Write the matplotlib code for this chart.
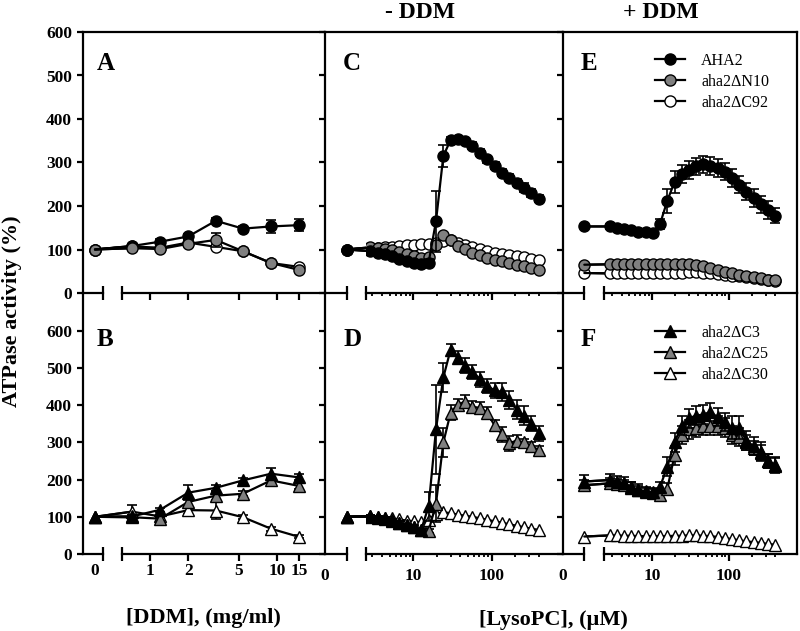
import matplotlib
matplotlib.use("Agg")
import matplotlib.pyplot as plt
from matplotlib.patches import ConnectionPatch
from matplotlib.ticker import NullLocator

plt.rcParams["font.family"] = ["Liberation Serif", "DejaVu Serif"]
plt.rcParams["font.weight"] = "bold"

# concentrations
ddm = [0.72, 1.2, 2.0, 3.3, 5.4, 9.0, 15.0]
lyso = [2.8, 3.5, 4.3, 5.3, 6.6, 8.2, 10.2, 12.6, 15.7, 19.5, 24.2, 30,
        37, 46, 57, 71, 88, 109, 136, 168, 209, 259, 322, 400]

# panel A (DDM titration, circles)
a_zero = {"AHA2": 100, "aha2ΔN10": 100, "aha2ΔC92": 100}
a_aha2 = [108, 118, 130, 166, 148, 153, 156]
a_aha2_err = [5, 6, 6, 6, 6, 15, 14]
a_n10 = [103, 101, 113, 122, 96, 69, 53]
a_n10_err = [4, 4, 5, 16, 5, 5, 5]
a_c92 = [107, 104, 116, 106, 96, 69, 60]

# panel B (DDM titration, triangles)
b_zero = {"aha2ΔC3": 100, "aha2ΔC25": 100, "aha2ΔC30": 100}
b_c3 = [101, 119, 165, 178, 198, 216, 206]
b_c3_err = [5, 6, 20, 8, 6, 16, 8]
b_c25 = [99, 95, 140, 157, 162, 198, 183]
b_c25_err = [5, 5, 10, 12, 7, 8, 8]
b_c30 = [114, 101, 118, 117, 99, 68, 46]
b_c30_err = [18, 5, 10, 22, 5, 5, 4]

# panel C (LysoPC, -DDM, circles)
c_zero = {"AHA2": 100, "aha2ΔN10": 100, "aha2ΔC92": 100}
c_aha2 = [96, 93, 89, 85, 79, 74, 69, 66, 70, 165, 315, 352, 355, 349, 338, 322,
          307, 292, 277, 265, 253, 242, 230, 217]
c_aha2_err = [4, 4, 4, 4, 4, 4, 4, 5, 8, 70, 25, 6, 6, 6, 8, 8, 8, 8, 8, 8, 8, 10, 10, 8]
c_n10 = [105, 104, 102, 99, 95, 90, 85, 80, 82, 110, 133, 121, 109, 101, 93, 87,
         81, 77, 73, 69, 65, 61, 57, 53]
c_c92 = [104, 104, 105, 106, 108, 110, 111, 112, 112, 115, 120, 121, 116, 111,
         106, 101, 97, 93, 89, 87, 85, 82, 79, 75]

# panel D (LysoPC, -DDM, triangles)
d_zero = {"aha2ΔC3": 100, "aha2ΔC25": 100, "aha2ΔC30": 100}
d_c3 = [102, 99, 96, 91, 84, 78, 72, 65, 128, 335, 475, 550, 528, 506, 490, 470,
        452, 440, 436, 414, 388, 372, 350, 325]
d_c3_err = [4, 4, 4, 4, 4, 4, 5, 5, 40, 120, 40, 15, 18, 20, 18, 20, 20, 20, 25,
            25, 25, 25, 20, 20]
d_c25 = [100, 98, 95, 90, 84, 78, 72, 64, 62, 135, 300, 380, 402, 410, 396, 393,
         380, 346, 322, 298, 305, 300, 290, 280]
d_c25_err = [4, 4, 4, 4, 4, 4, 4, 4, 5, 50, 40, 20, 15, 18, 15, 15, 15, 15, 20,
             20, 15, 10, 10, 10]
d_c30 = [102, 100, 98, 96, 93, 90, 88, 85, 92, 108, 112, 110, 106, 103, 100, 96,
         92, 88, 84, 80, 76, 72, 68, 65]

# panel E (LysoPC, +DDM, circles)
e_zero = {"AHA2": 153, "aha2ΔN10": 65, "aha2ΔC92": 46}
e_aha2 = [153, 149, 146, 144, 141, 140, 139, 158, 212, 255, 274, 283, 291, 296,
          292, 287, 279, 264, 249, 233, 218, 204, 191, 178]
e_aha2_err = [5, 5, 5, 5, 5, 5, 5, 12, 28, 25, 20, 20, 20, 20, 20, 20, 20, 20,
              20, 20, 20, 20, 20, 18]
e_n10 = [66, 66, 66, 66, 66, 66, 66, 67, 67, 67, 67, 66, 64, 61, 57, 53, 49, 46,
         42, 39, 36, 34, 31, 29]
e_c92 = [45, 45, 45, 45, 45, 45, 45, 46, 46, 46, 47, 48, 48, 47, 46, 44, 42, 40,
         38, 36, 34, 32, 30, 28]

# panel F (LysoPC, +DDM, triangles)
f_zero = {"aha2ΔC3": 195, "aha2ΔC25": 185, "aha2ΔC30": 47}
f_zero_err = {"aha2ΔC3": 18, "aha2ΔC25": 15, "aha2ΔC30": 0}
f_c3 = [199, 195, 191, 180, 173, 169, 166, 180, 235, 300, 345, 365, 372, 375,
        382, 368, 355, 340, 340, 305, 290, 275, 250, 240]
f_c3_err = [15, 15, 15, 15, 15, 12, 12, 15, 25, 25, 25, 25, 25, 25, 25, 25, 25,
            30, 30, 25, 25, 25, 20, 20]
f_c25 = [190, 188, 185, 178, 172, 166, 163, 160, 175, 265, 320, 335, 340, 345,
         345, 345, 340, 320, 315, 300, 285, 272, 250, 238]
f_c25_err = [15, 15, 15, 15, 12, 12, 12, 12, 15, 25, 25, 25, 25, 25, 25, 25, 25,
             25, 25, 20, 20, 20, 20, 20]
f_c30 = [50, 50, 49, 49, 48, 48, 48, 48, 48, 49, 49, 50, 50, 49, 48, 46, 43, 40,
         37, 34, 32, 30, 27, 25]

STYLE = {
    "AHA2": ("o", "black"), "aha2ΔN10": ("o", "#808080"), "aha2ΔC92": ("o", "white"),
    "aha2ΔC3": ("^", "black"), "aha2ΔC25": ("^", "#808080"), "aha2ΔC30": ("^", "white"),
}

W, H = 800, 631
fig = plt.figure(figsize=(8, 6.31), dpi=100)
LW = 1.6


def fbox(x0, x1, y0, y1):
    return [x0 / W, 1 - y1 / H, (x1 - x0) / W, (y1 - y0) / H]


ROWS = {"top": (32, 293, 600), "bottom": (293, 554, 702)}
# pads: (log-axis label pad, zero-axis label pad) in points
COLS = {
    "ddm": dict(frame=(83, 325), zero=(83, 103), log=(122, 325), zlim=(-1.5, 1.0),
                ztick=0, loglim=(0.6, 24.0), pads=(1.6, 6.6)),
    "lyso1": dict(frame=(325, 562.7), zero=(325, 347), log=(366, 562.7), zlim=(-1, 0),
                  ztick=-1, loglim=(2.49, 810), pads=(5.0, 10.0)),
    "lyso2": dict(frame=(562.7, 796.7), zero=(562.7, 584.3), log=(604.3, 796.7),
                  zlim=(-1, 0), ztick=-1, loglim=(2.37, 764), pads=(5.0, 10.0)),
}


def bare(ax, ytop):
    ax.set_facecolor("none")
    for s in ("top", "right", "left"):
        ax.spines[s].set_visible(False)
    ax.spines["bottom"].set_linewidth(LW)
    ax.set_ylim(0, ytop)
    ax.set_yticks([])


def draw_panel(col, row, letter, xvals, series, zeros, zero_err=None):
    c = COLS[col]
    y0, y1, ytop = ROWS[row]
    bottom = row == "bottom"

    frame = fig.add_axes(fbox(*c["frame"], y0, y1))
    frame.set_facecolor("none")
    frame.set_ylim(0, ytop)
    frame.set_yticks(range(0, 601, 100))
    frame.set_xticks([])
    for s in frame.spines.values():
        s.set_linewidth(LW)
    frame.spines["bottom"].set_visible(False)
    frame.spines["top"].set_visible(row == "top")
    frame.spines["right"].set_visible(col == "lyso2")
    frame.tick_params(axis="y", direction="out", length=4.3, width=LW, labelsize=12.5,
                      pad=3.5, labelleft=(col == "ddm"))

    ax0 = fig.add_axes(fbox(*c["zero"], y0, y1))
    bare(ax0, ytop)
    ax0.set_xlim(*c["zlim"])
    ax0.set_xticks([c["ztick"]])
    ax0.set_xticklabels(["0"] if bottom else [""])
    ax0.tick_params(axis="x", length=0, pad=c["pads"][1], labelsize=12.5)
    ax0.plot([1], [0], marker="|", ms=9.5, mew=LW, color="k",
             transform=ax0.transAxes, clip_on=False)

    axl = fig.add_axes(fbox(*c["log"], y0, y1))
    bare(axl, ytop)
    axl.set_xscale("log")
    axl.set_xlim(*c["loglim"])
    if col == "ddm":
        axl.set_xticks([1, 2, 5, 10, 15])
        axl.set_xticklabels(["1", "2", "5", "10", "15"])
        axl.xaxis.set_minor_locator(NullLocator())
    else:
        axl.set_xticks([10, 100])
        axl.set_xticklabels(["10", "100"])
        axl.set_xticks([3, 4, 5, 6, 7, 8, 9, 20, 30, 40, 50, 60, 70, 80, 90,
                        200, 300, 400], minor=True)
        axl.xaxis.set_minor_formatter(plt.NullFormatter())
    axl.tick_params(axis="x", which="major", direction="out", length=5, width=LW,
                    labelsize=12.5, pad=c["pads"][0], labelbottom=bottom)
    axl.tick_params(axis="x", which="minor", direction="out", length=2.5, width=1.3)
    axl.plot([0], [0], marker="|", ms=9.5, mew=LW, color="k",
             transform=axl.transAxes, clip_on=False)

    handles = {}
    for z, (label, vals, err) in enumerate(series):
        marker, face = STYLE[label]
        zo = 3 + z
        ze = None if zero_err is None else zero_err.get(label) or None
        if ze:
            ax0.errorbar([0], [zeros[label]], yerr=[ze], fmt="none", ecolor="k",
                         elinewidth=1.2, capsize=3.5, capthick=1.2, zorder=zo,
                         clip_on=False)
        ax0.plot([0], [zeros[label]], ls="none", marker=marker, ms=8, mfc=face,
                 mec="k", mew=1, zorder=zo, clip_on=False)
        if err is not None:
            axl.errorbar(xvals, vals, yerr=err, fmt="none", ecolor="k",
                         elinewidth=1.2, capsize=3.5, capthick=1.2, zorder=zo)
        line, = axl.plot(xvals, vals, "-", color="k", lw=LW, marker=marker, ms=8,
                         mfc=face, mec="k", mew=1, zorder=zo, label=label)
        handles[label] = line
        # short connector pieces across the axis break
        for host in (ax0, axl):
            con = ConnectionPatch(xyA=(0, zeros[label]), coordsA=ax0.transData,
                                  xyB=(xvals[0], vals[0]), coordsB=axl.transData,
                                  arrowstyle="-", shrinkA=0, shrinkB=0, lw=LW,
                                  color="k", zorder=zo - 0.5)
            con.set_annotation_clip(False)
            host.add_artist(con)

    fig.text(c["frame"][0] / W + (14 if col == "ddm" else 18) / W,
             1 - (y0 + (31 if row == "top" else 46)) / H, letter,
             fontsize=18, ha="left", va="center")
    return axl, handles


draw_panel("ddm", "top", "A", ddm,
           [("aha2ΔC92", a_c92, None), ("AHA2", a_aha2, a_aha2_err),
            ("aha2ΔN10", a_n10, a_n10_err)], a_zero)
draw_panel("ddm", "bottom", "B", ddm,
           [("aha2ΔC30", b_c30, b_c30_err), ("aha2ΔC25", b_c25, b_c25_err),
            ("aha2ΔC3", b_c3, b_c3_err)], b_zero)
draw_panel("lyso1", "top", "C", lyso,
           [("aha2ΔC92", c_c92, None), ("aha2ΔN10", c_n10, None),
            ("AHA2", c_aha2, c_aha2_err)], c_zero)
draw_panel("lyso1", "bottom", "D", lyso,
           [("aha2ΔC30", d_c30, None), ("aha2ΔC25", d_c25, d_c25_err),
            ("aha2ΔC3", d_c3, d_c3_err)], d_zero)
axe, he = draw_panel("lyso2", "top", "E", lyso,
                     [("aha2ΔC92", e_c92, None), ("aha2ΔN10", e_n10, None),
                      ("AHA2", e_aha2, e_aha2_err)], e_zero)
axf, hf = draw_panel("lyso2", "bottom", "F", lyso,
                     [("aha2ΔC30", f_c30, None), ("aha2ΔC25", f_c25, f_c25_err),
                      ("aha2ΔC3", f_c3, f_c3_err)], f_zero, f_zero_err)

leg_kw = dict(loc="upper left", bbox_transform=fig.transFigure, frameon=False,
              prop={"size": 11.5, "weight": "normal"}, handlelength=1.9,
              handletextpad=1.0, labelspacing=0.3, borderpad=0, borderaxespad=0)
order_e = ["AHA2", "aha2ΔN10", "aha2ΔC92"]
order_f = ["aha2ΔC3", "aha2ΔC25", "aha2ΔC30"]
axe.legend([he[k] for k in order_e], order_e, bbox_to_anchor=(655 / W, 1 - 53 / H), **leg_kw)
axf.legend([hf[k] for k in order_f], order_f, bbox_to_anchor=(655 / W, 1 - 325 / H), **leg_kw)

fig.text(420 / W, 1 - 12 / H, "- DDM", fontsize=17, ha="center", va="center")
fig.text(661 / W, 1 - 12 / H, "+ DDM", fontsize=17, ha="center", va="center")
fig.text(12 / W, 1 - 311 / H, "ATPase activity (%)", fontsize=16, rotation=90,
         ha="center", va="center")
fig.text(203 / W, 1 - 618 / H, "[DDM], (mg/ml)", fontsize=16, ha="center", va="center")
fig.text(553 / W, 1 - 620 / H, "[LysoPC], (µM)", fontsize=16, ha="center", va="center")

fig.savefig("out.png", dpi=100, facecolor="white")
